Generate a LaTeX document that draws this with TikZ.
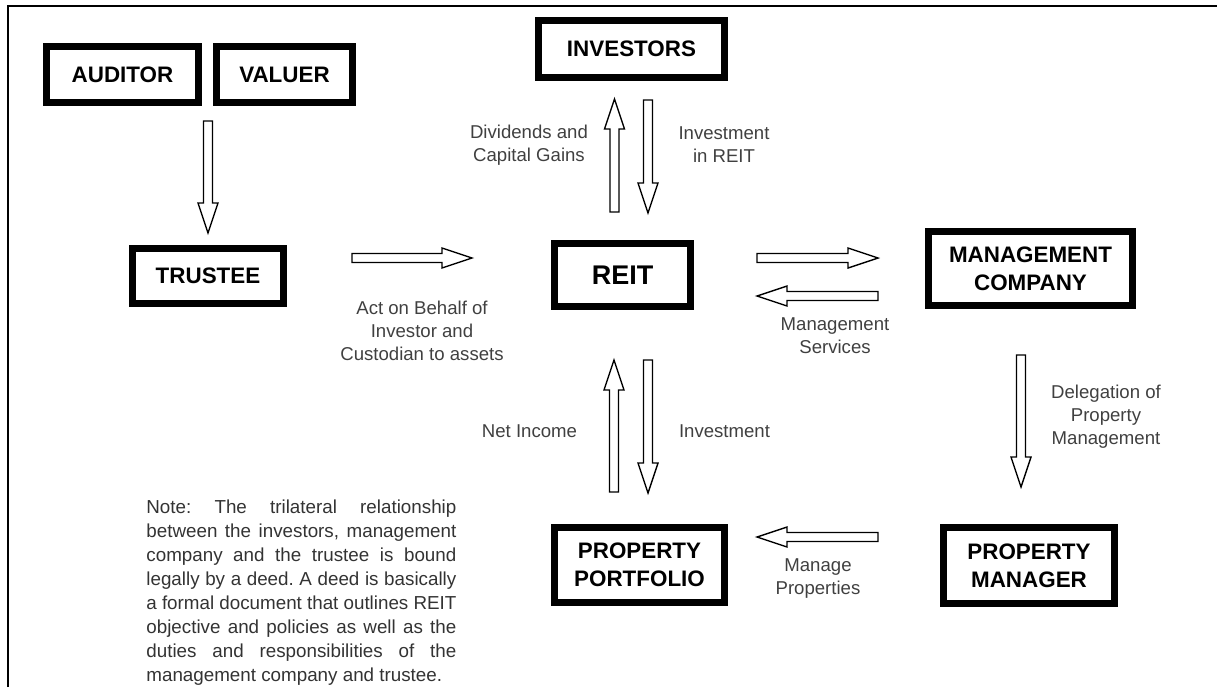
\documentclass[tikz,border=0pt]{standalone}
\usepackage{fontspec}
\setmainfont{Liberation Sans}
\usetikzlibrary{calc}

\tikzset{
  hollow/.style={draw, line width=0.7pt, fill=white, line join=miter,
    to path={let \p1=(\tikztostart), \p2=(\tikztotarget),
      \n1={atan2((\y2)-(\y1),(\x2)-(\x1))}, \n2={veclen((\x2)-(\x1),(\y2)-(\y1))} in
      {[shift={(\p1)}, rotate=\n1]
        (0pt,2.25pt) -- ({\n2-15pt},2.25pt) -- ({\n2-15pt},5pt) -- ({\n2*1pt},0pt)
        -- ({\n2-15pt},-5pt) -- ({\n2-15pt},-2.25pt) -- (0pt,-2.25pt) -- cycle}}}
}

\begin{document}
\begin{tikzpicture}[x=0.5pt, y=-0.5pt,
  box/.style={draw, line width=3.5pt, inner sep=0pt, align=center,
    font=\fontsize{11.2}{14}\selectfont\bfseries},
  lbl/.style={align=center, inner sep=0pt, text=black!75,
    font=\fontsize{9.3}{11.5}\selectfont}]
\useasboundingbox (0,0) rectangle (1226,687);
\draw[line width=1.4pt] (8,687) -- (8,6) -- (1217,6);

\node[box, minimum width=76pt, minimum height=28pt] (auditor) at (122.5,74.5) {AUDITOR};
\node[box, minimum width=68pt, minimum height=28pt] (valuer) at (284.5,74.5) {VALUER};
\node[box, minimum width=75.5pt, minimum height=27.5pt] (trustee) at (208,276) {TRUSTEE};
\node[box, minimum width=93pt, minimum height=28.5pt] (investors) at (631.5,49) {INVESTORS};
\node[box, minimum width=68pt, minimum height=31.5pt, font=\fontsize{13.5}{16}\selectfont\bfseries] (reit) at (622.5,275) {REIT};
\node[box, minimum width=102pt, minimum height=37pt] (mgmt) at (1030.5,268.5) {MANAGEMENT\\COMPANY};
\node[box, minimum width=85.5pt, minimum height=38pt] (pm) at (1029,565.5) {PROPERTY\\MANAGER};
\node[box, minimum width=85pt, minimum height=37.5pt] (pp) at (639.5,565) {PROPERTY\\PORTFOLIO};

\draw[hollow] ($(auditor.south -| trustee.north)+(0,15)$) to ($(trustee.north)+(0,-12)$);
\draw[hollow] ($(investors.south |- reit.north)+(-17,-28)$) to ($(investors.south)+(-17,18)$);
\draw[hollow] ($(investors.south)+(16.5,19)$) to ($(investors.south |- reit.north)+(16.5,-27)$);
\draw[hollow] ($(trustee.east)+(65,-18)$) to ($(reit.west |- trustee.east)+(-79,-18)$);
\draw[hollow] ($(reit.east)+(63,-17)$) to ($(mgmt.west |- reit.east)+(-47,-17)$);
\draw[hollow] ($(mgmt.west |- reit.east)+(-47,21)$) to ($(reit.east)+(63,21)$);
\draw[hollow] ($(reit.south |- pp.north)+(-8.5,-32)$) to ($(reit.south)+(-8.5,50)$);
\draw[hollow] ($(reit.south)+(25.5,50)$) to ($(reit.south |- pp.north)+(25.5,-31)$);
\draw[hollow] ($(mgmt.south)+(-9.5,46)$) to ($(mgmt.south |- pm.north)+(-9.5,-37)$);
\draw[hollow] ($(pm.west)+(-62,-28.5)$) to ($(pp.east |- pm.west)+(29,-28.5)$);

\node[lbl] (divlbl) at (529,145) {Dividends and\\Capital Gains};
\node[lbl] (invlbl) at (724,145) {Investment\\in REIT};
\node[lbl] (actlbl) at (422,331) {Act on Behalf of\\Investor and\\Custodian to assets};
\node[lbl] (svclbl) at (835,336) {Management\\Services};
\node[lbl] (dellbl) at (1106,417) {Delegation of\\Property\\Management};
\node[lbl] (netlbl) at (529.5,431) {Net Income};
\node[lbl] (inv2lbl) at (724.5,431) {Investment};
\node[lbl] (mgplbl) at (818,579) {Manage\\Properties};

\node[anchor=north west, inner sep=0pt, text width=155pt, align=justify, text=black!80,
  font=\fontsize{9.4}{12}\selectfont\frenchspacing] (note) at (146,499)
  {Note: The trilateral relationship\linebreak
   between the investors, management\linebreak
   company and the trustee is bound\linebreak
   legally by a deed. A deed is basically\linebreak
   a formal document that outlines REIT\linebreak
   objective and policies as well as the\linebreak
   duties and responsibilities of the\linebreak
   management company and trustee.};
\end{tikzpicture}
\end{document}
